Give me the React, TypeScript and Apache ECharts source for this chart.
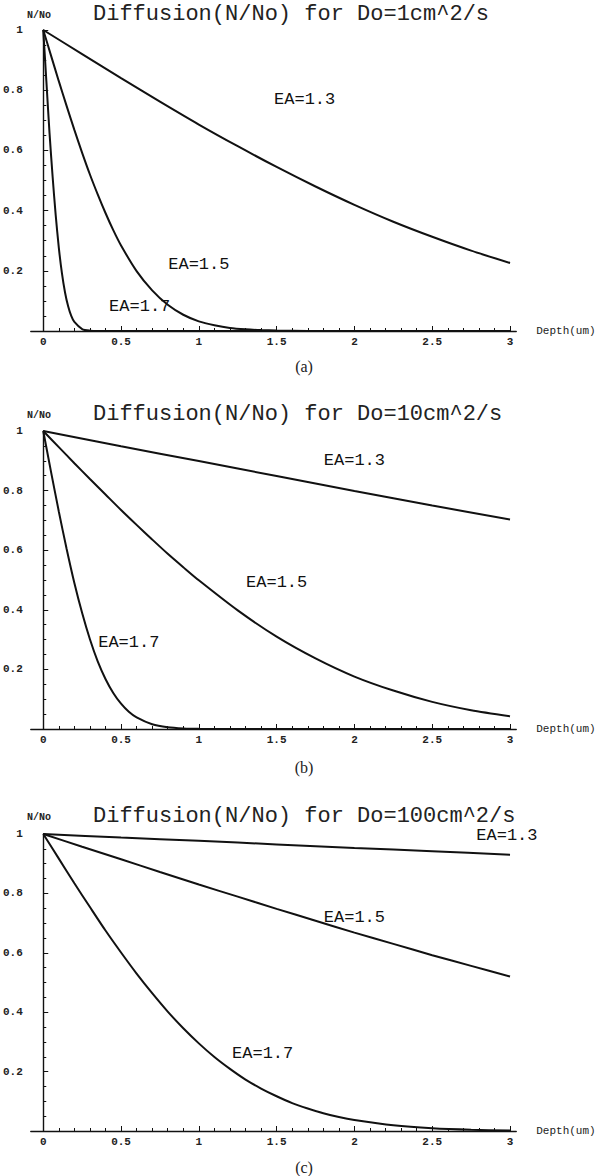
import React, { useEffect, useRef } from "react";
import * as echarts from "echarts";

const titles = [
  "Diffusion(N/No) for Do=1cm^2/s",
  "Diffusion(N/No) for Do=10cm^2/s",
  "Diffusion(N/No) for Do=100cm^2/s",
];
const captions = ["(a)", "(b)", "(c)"];
const curveNames = ["EA=1.3", "EA=1.5", "EA=1.7"];
const xTickLabels = [0, 0.5, 1, 1.5, 2, 2.5, 3];
const xMinorTicks = [
  0.1, 0.2, 0.3, 0.4, 0.6, 0.7, 0.8, 0.9, 1.1, 1.2, 1.3, 1.4, 1.6, 1.7, 1.8, 1.9,
  2.1, 2.2, 2.3, 2.4, 2.6, 2.7, 2.8, 2.9,
];

// Panel (a): Do = 1 cm^2/s
const depthA13 = [0, 0.25, 0.5, 0.75, 1, 1.25, 1.5, 1.75, 2, 2.25, 2.5, 2.75, 3];
const valueA13 = [1, 0.92, 0.84, 0.762, 0.686, 0.614, 0.545, 0.48, 0.419, 0.363, 0.313, 0.267, 0.226];
const depthA15 = [0, 0.05, 0.1, 0.15, 0.2, 0.25, 0.3, 0.35, 0.4, 0.45, 0.5, 0.6, 0.7, 0.8, 0.9, 1.0, 1.1, 1.2, 1.3, 1.4, 1.5, 1.7, 2, 3];
const valueA15 = [1, 0.915, 0.83, 0.748, 0.668, 0.592, 0.52, 0.454, 0.392, 0.335, 0.284, 0.199, 0.135, 0.087, 0.054, 0.032, 0.019, 0.01, 0.0055, 0.003, 0.0015, 0.0003, 0, 0];
const depthA17 = [0, 0.02, 0.04, 0.06, 0.08, 0.1, 0.12, 0.14, 0.16, 0.18, 0.2, 0.25, 0.3, 0.35, 0.5, 3];
const valueA17 = [1, 0.83, 0.66, 0.514, 0.385, 0.277, 0.192, 0.128, 0.082, 0.05, 0.03, 0.0066, 0.0012, 0.0001, 0, 0];

// Panel (b): Do = 10 cm^2/s
const depthB13 = [0, 0.5, 1, 1.5, 2, 2.5, 3];
const valueB13 = [1, 0.949, 0.899, 0.849, 0.799, 0.75, 0.703];
const depthB15 = [0, 0.1, 0.2, 0.3, 0.4, 0.5, 0.6, 0.7, 0.8, 0.9, 1.0, 1.25, 1.5, 1.75, 2, 2.25, 2.5, 2.75, 3];
const valueB15 = [1, 0.946, 0.892, 0.839, 0.787, 0.735, 0.685, 0.636, 0.588, 0.543, 0.499, 0.398, 0.31, 0.237, 0.176, 0.129, 0.091, 0.063, 0.043];
const depthB17 = [0, 0.05, 0.1, 0.15, 0.2, 0.25, 0.3, 0.35, 0.4, 0.45, 0.5, 0.55, 0.6, 0.7, 0.8, 0.9, 1.0, 1.2, 3];
const valueB17 = [1, 0.863, 0.73, 0.605, 0.49, 0.389, 0.301, 0.227, 0.168, 0.121, 0.085, 0.058, 0.039, 0.016, 0.006, 0.002, 0.0006, 0.0001, 0];

// Panel (c): Do = 100 cm^2/s
const depthC13 = [0, 0.5, 1, 1.5, 2, 2.5, 3];
const valueC13 = [1, 0.988, 0.977, 0.965, 0.953, 0.942, 0.93];
const depthC15 = [0, 0.25, 0.5, 0.75, 1, 1.25, 1.5, 1.75, 2, 2.25, 2.5, 2.75, 3];
const valueC15 = [1, 0.957, 0.915, 0.872, 0.83, 0.789, 0.748, 0.708, 0.668, 0.63, 0.592, 0.556, 0.52];
const depthC17 = [0, 0.1, 0.2, 0.3, 0.4, 0.5, 0.6, 0.7, 0.8, 0.9, 1.0, 1.1, 1.2, 1.3, 1.4, 1.5, 1.6, 1.7, 1.8, 1.9, 2.0, 2.25, 2.5, 2.75, 3];
const valueC17 = [1, 0.917, 0.834, 0.754, 0.675, 0.601, 0.53, 0.464, 0.402, 0.346, 0.295, 0.249, 0.209, 0.173, 0.143, 0.117, 0.094, 0.076, 0.06, 0.047, 0.037, 0.019, 0.009, 0.004, 0.0017];

// label anchor points (data coordinates)
const labelPosA = [[1.68, 0.77], [1.0, 0.22], [0.62, 0.08]];
const labelPosB = [[2.0, 0.9], [1.5, 0.49], [0.55, 0.29]];
const labelPosC = [[2.98, 0.995], [2.0, 0.72], [1.41, 0.26]];

const panels = [
  { depths: [depthA13, depthA15, depthA17], values: [valueA13, valueA15, valueA17], labels: labelPosA },
  { depths: [depthB13, depthB15, depthB17], values: [valueB13, valueB15, valueB17], labels: labelPosB },
  { depths: [depthC13, depthC15, depthC17], values: [valueC13, valueC15, valueC17], labels: labelPosC },
];

// layout
const W = 609;
const H = 1176;
const X_ZERO = 42;
const UNIT = 156;
const X_MIN = -0.08;
const X_MAX = 3.04;
const panelTop = [30, 431, 834];
const panelHeight = [301, 298, 297];
const titleY = [14, 414, 816];
const captionY = [366, 767, 1167];

const INK = "#111";
const MONO = "Liberation Mono";

function buildOption() {
  const grid: any[] = [];
  const xAxis: any[] = [];
  const yAxis: any[] = [];
  const series: any[] = [];
  const graphic: any[] = [];

  panels.forEach((p, i) => {
    grid.push({
      left: X_ZERO + X_MIN * UNIT,
      top: panelTop[i],
      width: (X_MAX - X_MIN) * UNIT,
      height: panelHeight[i],
    });
    xAxis.push({
      type: "value",
      gridIndex: i,
      min: X_MIN,
      max: X_MAX,
      position: "bottom",
      name: "Depth(um)",
      nameLocation: "end",
      nameGap: 20,
      nameTextStyle: { fontFamily: MONO, fontSize: 11, color: "#222", padding: [4, 0, 0, 0] },
      axisLine: { onZero: true, lineStyle: { color: INK, width: 1.4 } },
      axisTick: { show: true, inside: true, length: 5, customValues: xTickLabels, lineStyle: { color: INK } },
      axisLabel: {
        show: true,
        customValues: xTickLabels,
        fontFamily: MONO,
        fontWeight: "bold",
        fontSize: 11,
        color: "#222",
        margin: 5,
      },
      splitLine: { show: false },
    });
    xAxis.push({
      type: "value",
      gridIndex: i,
      min: X_MIN,
      max: X_MAX,
      position: "bottom",
      axisLine: { show: false },
      axisTick: { show: true, inside: true, length: 3, customValues: xMinorTicks, lineStyle: { color: INK } },
      axisLabel: { show: false },
      splitLine: { show: false },
    });
    yAxis.push({
      type: "value",
      gridIndex: i,
      min: 0,
      max: 1,
      interval: 0.2,
      axisLine: { show: true, onZero: true, lineStyle: { color: INK, width: 1.4 } },
      axisTick: { show: true, inside: true, length: 5, lineStyle: { color: INK } },
      minorTick: { show: true, splitNumber: 4, length: 3, lineStyle: { color: INK } },
      axisLabel: {
        formatter: (v: number) => (v === 0 ? "" : String(Math.round(v * 10) / 10)),
        fontFamily: MONO,
        fontWeight: "bold",
        fontSize: 11,
        color: "#222",
        margin: 8,
      },
      splitLine: { show: false },
      minorSplitLine: { show: false },
    });

    p.depths.forEach((d, k) => {
      series.push({
        type: "line",
        name: curveNames[k],
        xAxisIndex: i * 2,
        yAxisIndex: i,
        data: d.map((x, j) => [x, p.values[k][j]]),
        showSymbol: false,
        smooth: 0.25,
        lineStyle: { color: INK, width: 2 },
        silent: true,
        markPoint: {
          symbol: "circle",
          symbolSize: 0,
          silent: true,
          label: {
            show: true,
            position: "inside",
            formatter: curveNames[k],
            fontFamily: MONO,
            fontSize: 17,
            color: "#111",
          },
          data: [{ coord: p.labels[k] }],
        },
      });
    });

    graphic.push({
      type: "text",
      x: 93,
      y: titleY[i],
      style: {
        text: titles[i],
        font: `22px "Liberation Mono"`,
        fill: "#222",
        textAlign: "left",
        textVerticalAlign: "middle",
      },
    });
    graphic.push({
      type: "text",
      x: 27,
      y: titleY[i] + 1,
      style: {
        text: "N/No",
        font: `bold 10px "Liberation Mono"`,
        fill: "#222",
        textAlign: "left",
        textVerticalAlign: "middle",
      },
    });
    graphic.push({
      type: "text",
      x: 304,
      y: captionY[i],
      style: {
        text: captions[i],
        font: `16px "Liberation Serif"`,
        fill: "#222",
        textAlign: "center",
        textVerticalAlign: "middle",
      },
    });
  });

  return {
    animation: false,
    backgroundColor: "#fff",
    grid,
    xAxis,
    yAxis,
    series,
    graphic,
  };
}

export default function App() {
  const ref = useRef<HTMLDivElement>(null);
  useEffect(() => {
    if (!ref.current) return;
    const chart = echarts.init(ref.current, undefined, { renderer: "svg" });
    chart.setOption(buildOption() as any);
    return () => chart.dispose();
  }, []);
  return (
    <div
      ref={ref}
      style={{ position: "absolute", left: 0, top: 0, width: W, height: H, background: "#fff" }}
    />
  );
}
